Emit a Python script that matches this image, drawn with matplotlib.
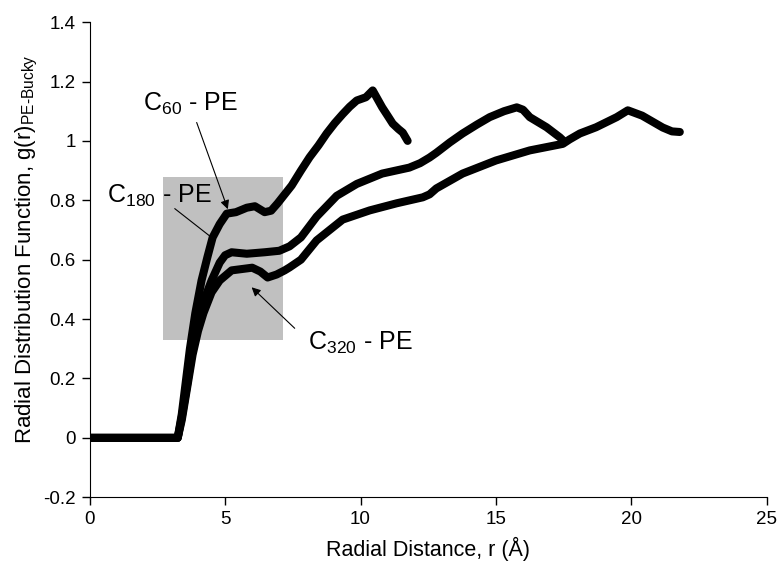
import matplotlib
matplotlib.use('Agg')
import matplotlib.pyplot as plt
from matplotlib.patches import Rectangle
from matplotlib.ticker import FuncFormatter

plt.rcParams['font.family'] = ['Liberation Sans', 'DejaVu Sans']
plt.rcParams['mathtext.fontset'] = 'custom'
plt.rcParams['mathtext.rm'] = 'Liberation Sans'
plt.rcParams['mathtext.it'] = 'Liberation Sans'
plt.rcParams['axes.unicode_minus'] = False

# === 数据 ===
c60_r = [0, 3.25, 3.4, 3.55, 3.7, 3.9, 4.13, 4.35, 4.54, 4.8, 5.06, 5.4, 5.8, 6.1, 6.46, 6.7,
         6.94, 7.2, 7.46, 7.8, 8.12, 8.45, 8.75, 9.05, 9.34, 9.6, 9.86, 10.2, 10.45, 10.8, 11.0,
         11.19, 11.4, 11.56, 11.74]
c60_g = [0, 0, 0.08, 0.19, 0.30, 0.42, 0.53, 0.61, 0.675, 0.72, 0.755, 0.76, 0.775, 0.78, 0.76,
         0.765, 0.79, 0.82, 0.85, 0.90, 0.945, 0.985, 1.025, 1.06, 1.09, 1.115, 1.136, 1.147, 1.17,
         1.113, 1.085, 1.058, 1.04, 1.028, 1.0]

c180_r = [0, 3.25, 3.4, 3.6, 3.8, 4.0, 4.25, 4.5, 4.8, 5.0, 5.24, 5.8, 6.46, 7.0, 7.38, 7.8, 8.38,
          9.12, 9.86, 10.8, 11.8, 12.2, 12.55, 12.8, 13.3, 13.77, 14.3, 14.77, 15.3, 15.77, 16.0,
          16.25, 16.87, 17.36, 17.5]
c180_g = [0, 0, 0.07, 0.18, 0.30, 0.40, 0.47, 0.53, 0.59, 0.615, 0.625, 0.62, 0.625, 0.63, 0.645,
          0.675, 0.745, 0.815, 0.855, 0.89, 0.91, 0.925, 0.944, 0.96, 0.995, 1.025, 1.055, 1.08,
          1.1, 1.113, 1.105, 1.08, 1.046, 1.012, 1.0]

c320_r = [0, 3.25, 3.4, 3.6, 3.8, 4.0, 4.2, 4.5, 4.8, 5.24, 6.0, 6.3, 6.57, 6.9, 7.2, 7.38, 7.8,
          8.38, 9.34, 10.34, 11.34, 12.3, 12.55, 12.8, 13.77, 15.0, 16.25, 17.47, 17.72, 18.1,
          18.7, 19.46, 19.87, 20.4, 21.16, 21.5, 21.79]
c320_g = [0, 0, 0.06, 0.17, 0.28, 0.36, 0.42, 0.49, 0.53, 0.564, 0.573, 0.56, 0.54, 0.55, 0.564,
          0.574, 0.6, 0.665, 0.735, 0.766, 0.79, 0.81, 0.82, 0.84, 0.89, 0.934, 0.968, 0.99, 1.005,
          1.025, 1.046, 1.08, 1.103, 1.085, 1.045, 1.032, 1.03]

# 灰色区域（r 和 g 的范围）
box_r = [2.7, 7.15]
box_g = [0.33, 0.88]

# 标注文字
labels = [r'C$_{60}$ - PE', r'C$_{180}$ - PE', r'C$_{320}$ - PE']

fig = plt.figure(figsize=(7.8, 5.67), dpi=100)
ax = fig.add_axes([0.115, 0.123, 0.868, 0.838])

ax.add_patch(Rectangle((box_r[0], box_g[0]), box_r[1] - box_r[0], box_g[1] - box_g[0],
                       facecolor='#c0c0c0', edgecolor='none', zorder=0))

for r, g in [(c320_r, c320_g), (c180_r, c180_g), (c60_r, c60_g)]:
    ax.plot(r, g, color='black', lw=5.8, solid_capstyle='round', solid_joinstyle='round', zorder=2)

ax.set_xlim(0, 25)
ax.set_ylim(-0.2, 1.4)
ax.set_xticks([0, 5, 10, 15, 20, 25])
ax.set_yticks([-0.2, 0, 0.2, 0.4, 0.6, 0.8, 1.0, 1.2, 1.4])
ax.yaxis.set_major_formatter(FuncFormatter(lambda v, p: '%g' % round(v, 2)))
ax.spines['top'].set_visible(False)
ax.spines['right'].set_visible(False)
ax.tick_params(direction='out', length=6, width=1, labelsize=13.5, pad=4)

ax.set_xlabel('Radial Distance, r (Å)', fontsize=15.5)
ax.xaxis.set_label_coords(0.5, -0.083)
ax.set_ylabel(r'Radial Distribution Function, g(r)$_{\mathrm{PE\text{-}Bucky}}$', fontsize=16)
ax.yaxis.set_label_coords(-0.074, 0.522)

# 文字和箭头
ax.text(1.96, 1.103, labels[0], fontsize=18, ha='left', va='baseline')
ax.text(0.63, 0.79, labels[1], fontsize=18, ha='left', va='baseline')
ax.text(8.05, 0.295, labels[2], fontsize=18, ha='left', va='baseline')

head = dict(arrowstyle='-|>', color='black', lw=0.8, mutation_scale=13, shrinkA=0, shrinkB=0)
ax.annotate('', xy=(5.1, 0.77), xytext=(3.95, 1.062), arrowprops=head)
ax.annotate('', xy=(4.54, 0.672), xytext=(3.14, 0.772),
            arrowprops=dict(arrowstyle='-', color='black', lw=0.8, shrinkA=0, shrinkB=0))
ax.annotate('', xy=(5.98, 0.507), xytext=(7.57, 0.369), arrowprops=head)

fig.savefig('out.png', dpi=100)
